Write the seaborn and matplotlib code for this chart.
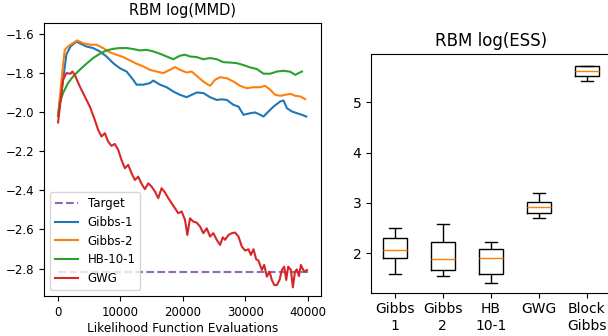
import matplotlib

matplotlib.use("Agg")

import matplotlib.pyplot as plt
import pandas as pd
import seaborn as sns

# --- left panel: log(MMD) vs likelihood evaluations ---
gibbs1_x = [0, 700, 1340, 2000, 2950, 3700, 4550, 5620, 6690, 7760,
            8835, 9900, 10980, 12050, 12580, 13650, 14730, 15260, 16330, 17400,
            18470, 19540, 20620, 21420, 22220, 23290, 24360, 25430, 26240, 27040,
            28110, 28920, 29720, 30790, 31590, 32400, 32930, 33730, 34540, 35610,
            36140, 36680, 37480, 38290, 39090, 39790]
gibbs1_y = [-2.02, -1.86, -1.705, -1.665, -1.64, -1.652, -1.665, -1.673, -1.69, -1.716,
            -1.75, -1.776, -1.793, -1.835, -1.86, -1.86, -1.852, -1.839, -1.86, -1.873,
            -1.895, -1.912, -1.924, -1.912, -1.9, -1.903, -1.924, -1.938, -1.935, -1.938,
            -1.963, -1.972, -2.014, -2.006, -2.002, -2.014, -2.023, -1.997, -1.972, -1.946,
            -1.941, -1.98, -1.997, -2.006, -2.014, -2.023]

gibbs2_x = [0, 600, 1070, 1600, 2140, 3050, 4020, 5090, 6160, 7230,
            8300, 9370, 10440, 11510, 12580, 13650, 14730, 15800, 16870, 17940,
            18740, 19540, 20620, 21420, 22220, 23290, 24360, 25170, 25970, 27040,
            28110, 29180, 30250, 31330, 32400, 33200, 34000, 34810, 35610, 36410,
            37220, 38020, 38820, 39620]
gibbs2_y = [-2.02, -1.82, -1.682, -1.665, -1.653, -1.634, -1.648, -1.656, -1.656, -1.673,
            -1.695, -1.707, -1.719, -1.736, -1.753, -1.767, -1.784, -1.793, -1.801, -1.784,
            -1.77, -1.784, -1.798, -1.793, -1.815, -1.844, -1.866, -1.835, -1.822, -1.827,
            -1.844, -1.866, -1.878, -1.873, -1.873, -1.866, -1.886, -1.912, -1.917, -1.912,
            -1.907, -1.917, -1.92, -1.934]

hb_x = [0, 270, 800, 1600, 2410, 3480, 4550, 5620, 6690, 7760,
        8835, 9900, 10980, 12050, 13120, 14190, 15260, 16330, 17400, 18470,
        19540, 20350, 21150, 22220, 23290, 24360, 25430, 26500, 27570, 28650,
        29720, 30790, 31860, 32930, 34000, 35070, 36140, 37220, 38020, 38550,
        39090]
hb_y = [-2.02, -1.955, -1.903, -1.852, -1.818, -1.784, -1.753, -1.724, -1.702, -1.685,
        -1.677, -1.673, -1.673, -1.678, -1.685, -1.682, -1.69, -1.702, -1.716, -1.73,
        -1.712, -1.707, -1.716, -1.719, -1.73, -1.724, -1.73, -1.745, -1.747, -1.75,
        -1.76, -1.772, -1.78, -1.804, -1.804, -1.793, -1.789, -1.794, -1.81, -1.801,
        -1.793]

gwg_x = [0, 800, 1340, 1980, 2300, 2680, 3480, 4280, 5090, 5890,
         6430, 6960, 7500, 8030, 8570, 9100, 9640, 10170, 10710, 11250,
         11780, 12320, 12850, 13390, 13920, 14460, 14990, 15530, 16060, 16600,
         17140, 17670, 18210, 18740, 19280, 19810, 20350, 20720, 21150, 21690,
         22220, 22760, 23290, 23830, 24360, 24900, 25430, 25970, 26400, 26770,
         27310, 27840, 28380, 28920, 29450, 29990, 30520, 30900, 31330, 31750,
         32130, 32660, 33040, 33470, 33900, 34270, 34650, 35070, 35500, 35880,
         36250, 36570, 36890, 37320, 37640, 37970, 38290, 38610, 38930, 39250,
         39570, 39890]
gwg_y = [-2.053, -1.835, -1.801, -1.804, -1.793, -1.81, -1.869, -1.92, -1.972, -2.04,
         -2.091, -2.125, -2.108, -2.151, -2.173, -2.163, -2.193, -2.245, -2.287, -2.27,
         -2.313, -2.347, -2.33, -2.367, -2.394, -2.364, -2.381, -2.406, -2.44, -2.389,
         -2.411, -2.44, -2.466, -2.492, -2.517, -2.508, -2.551, -2.628, -2.543, -2.56,
         -2.565, -2.585, -2.619, -2.594, -2.636, -2.619, -2.653, -2.679, -2.64, -2.653,
         -2.628, -2.619, -2.616, -2.636, -2.687, -2.708, -2.701, -2.73, -2.701, -2.752,
         -2.759, -2.807, -2.781, -2.841, -2.816, -2.858, -2.884, -2.884, -2.858, -2.807,
         -2.79, -2.858, -2.79, -2.807, -2.896, -2.816, -2.804, -2.838, -2.781, -2.804,
         -2.816, -2.807]

target_x = [0, 40000]
target_y = [-2.815, -2.815]

# --- right panel: log(ESS) five-number summaries per sampler ---
ess_labels = ["Gibbs\n1", "Gibbs\n2", "HB\n10-1", "GWG", "Block\nGibbs"]
ess_gibbs1 = [1.58, 1.91, 2.06, 2.30, 2.51]
ess_gibbs2 = [1.55, 1.67, 1.88, 2.22, 2.59]
ess_hb = [1.41, 1.58, 1.91, 2.08, 2.22]
ess_gwg = [2.69, 2.79, 2.92, 3.02, 3.19]
ess_block = [5.42, 5.52, 5.62, 5.73, 5.73]

series = [
    ("Gibbs-1", gibbs1_x, gibbs1_y, "#1f77b4"),
    ("Gibbs-2", gibbs2_x, gibbs2_y, "#ff7f0e"),
    ("HB-10-1", hb_x, hb_y, "#2ca02c"),
    ("GWG", gwg_x, gwg_y, "#d62728"),
]

fig = plt.figure(figsize=(6.08, 3.36), dpi=100)
ax_mmd = fig.add_axes([0.0724, 0.119, 0.4556, 0.8125])
ax_ess = fig.add_axes([0.6102, 0.1289, 0.394, 0.7104])

sns.lineplot(x=target_x, y=target_y, ax=ax_mmd, color="#9467bd",
             linestyle="--", linewidth=1.5, label="Target")
for name, xs, ys, col in series:
    sns.lineplot(x=xs, y=ys, ax=ax_mmd, color=col, linewidth=1.5, label=name)

ax_mmd.set_xlim(-2250, 42150)
ax_mmd.set_ylim(-2.94, -1.545)
ax_mmd.set_xticks([0, 10000, 20000, 30000, 40000])
ax_mmd.set_yticks([-2.8, -2.6, -2.4, -2.2, -2.0, -1.8, -1.6])
ax_mmd.tick_params(labelsize=8.5)
ax_mmd.set_title("RBM log(MMD)", fontsize=10.5)
ax_mmd.set_xlabel("Likelihood Function Evaluations", fontsize=8.7, labelpad=2)
ax_mmd.set_ylabel("")
ax_mmd.legend(loc="lower left", fontsize=8.5)

ess_frame = pd.DataFrame({
    "method": [lab for lab, vals in zip(ess_labels, [ess_gibbs1, ess_gibbs2, ess_hb, ess_gwg, ess_block]) for _ in vals],
    "value": ess_gibbs1 + ess_gibbs2 + ess_hb + ess_gwg + ess_block,
})
sns.boxplot(data=ess_frame, x="method", y="value", order=ess_labels, ax=ax_ess,
            fill=False, color="black", linewidth=1.0, width=0.5, whis=1.5,
            showfliers=False, medianprops={"color": "#ff7f0e"})
ax_ess.set_xlim(-0.5, 4.5)
ax_ess.set_ylim(1.215, 5.96)
ax_ess.set_yticks([2, 3, 4, 5])
ax_ess.tick_params(labelsize=10)
ax_ess.set_title("RBM log(ESS)", fontsize=12)
ax_ess.set_xlabel("")
ax_ess.set_ylabel("")

fig.savefig("out.png", dpi=100)
